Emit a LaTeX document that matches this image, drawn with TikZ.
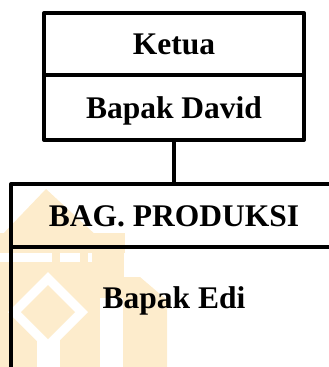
\documentclass[tikz,border=0pt]{standalone}
\usepackage{fontspec}
\setmainfont{Liberation Serif}
\definecolor{wm}{RGB}{253,236,204}
\begin{document}
\begin{tikzpicture}[x=1pt, y=-1pt, line width=4pt, line join=round,
  lbl/.style={inner sep=0pt, text height=21pt, text depth=0pt,
    font=\fontsize{31.5}{36}\selectfont\bfseries},
  box/.style={lbl, draw, rectangle, minimum width=260pt},
  wmfill/.style={fill=wm, draw=none},
  wmgap/.style={fill=white, draw=none}]
\useasboundingbox (0,0) rectangle (329,367);
\clip (0,0) rectangle (329,367);

% pale emblem in the lower left
\fill[wmfill] (0,237) -- (46,189) -- (98,237) -- cycle;
\fill[wmfill] (0,233) rectangle (125,253);
\fill[wmfill] (52,253) rectangle (60,262);
\fill[wmfill] (80,253) rectangle (88,262);
\fill[wmfill] (92,253) rectangle (124,298);
\fill[wmfill] (0,262) rectangle (100,367);
\fill[wmfill] (123,277) -- (140,277) -- (167,300) -- (167,367) -- (123,367) -- cycle;
\fill[wmgap] (48,272) -- (88,312) -- (48,352) -- (8,312) -- cycle;
\fill[wmgap] (37,340) rectangle (60,367);
\fill[wmfill] (48,285) -- (75,312) -- (48,339) -- (21,312) -- cycle;

% top boxes
\node[box, minimum height=62pt] (ketua) at (174,44) {Ketua};
\node[box, minimum height=65pt] (david) at (174,107.5) {Bapak David};

% production section, open to the right and below
\node[lbl, minimum height=63pt] (produksi) at (174,215.5) {BAG. PRODUKSI};
\node[lbl] (edi) at (174,297.5) {Bapak Edi};
\draw (345,184) -| (11,380);
\draw (11,247) -- (345,247);

\draw (david.south) -- (produksi.north);
\end{tikzpicture}
\end{document}
